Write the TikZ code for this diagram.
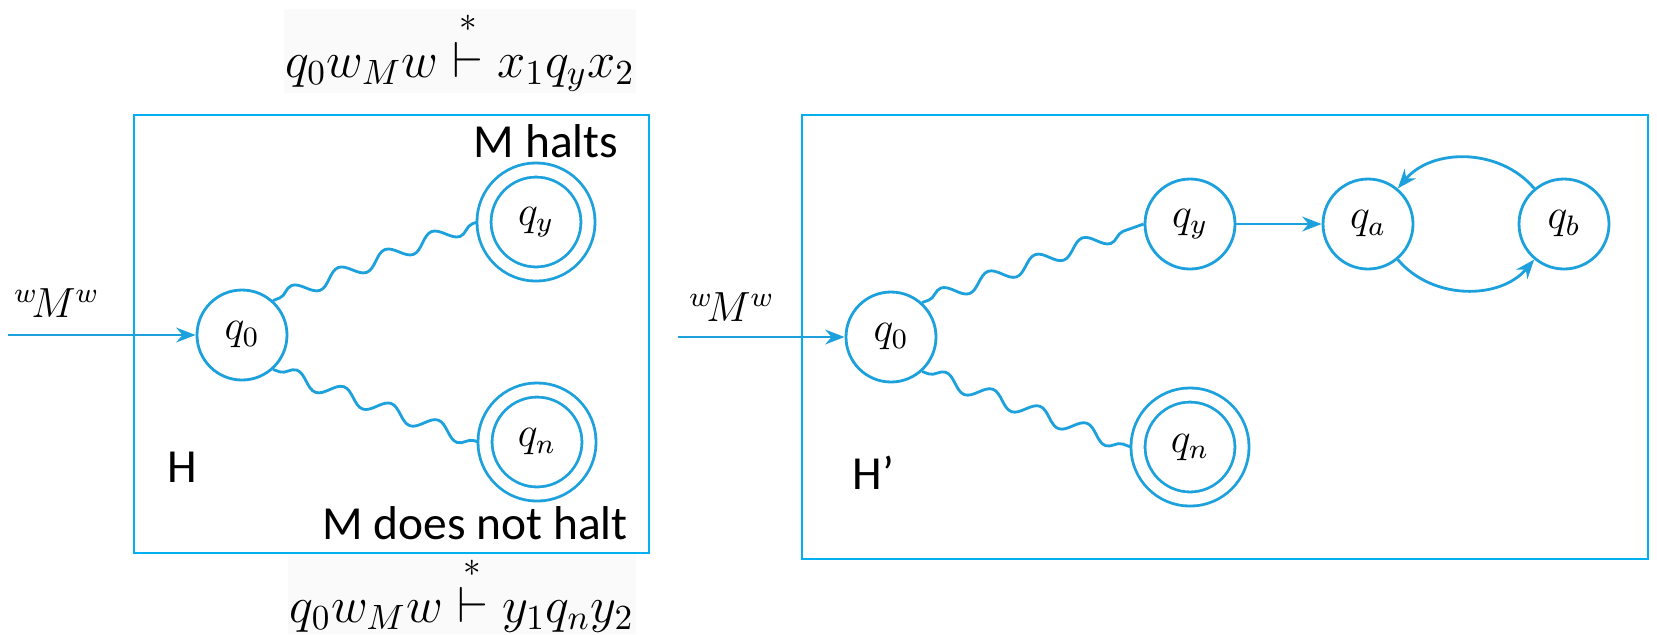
\documentclass[tikz,border=0pt]{standalone}
\usepackage{amsmath}
\usepackage{amssymb}
\usepackage{fontspec}
\usepackage{tikz}
\usepackage{xcolor}
\usetikzlibrary{arrows.meta,decorations.pathmorphing}
\newfontfamily\calib{Carlito}

\definecolor{boxblue}{HTML}{00B0F0}
\definecolor{stblue}{HTML}{1DA1DC}

\tikzset{
  qstate/.style={circle, draw=stblue, line width=0.8pt, minimum size=0.9cm, inner sep=0pt, font=\large},
  qfinal/.style={qstate, minimum size=1.04cm, double=white, double distance=3.2pt, outer sep=2pt},
  trans/.style={-{Stealth[length=5.5pt,width=4.2pt]}, draw=stblue, line width=0.8pt},
  wave/.style={draw=stblue, line width=0.8pt, decorate, decoration={snake, amplitude=2.1pt, segment length=0.5cm, pre length=2pt, post length=1pt}},
  frame/.style={draw=boxblue, line width=0.8pt},
  lbl/.style={font=\calib\fontsize{13.5}{16}\selectfont, inner sep=0pt},
  formula/.style={fill=black!2, inner sep=0.5pt, font=\Large},
  inlbl/.style={inner sep=0pt, font=\large}
}

\begin{document}
\begin{tikzpicture}
\useasboundingbox (0,0) rectangle (16.57,-6.34);

\node[formula, anchor=base] (top) at (4.60,-0.77) {$q_0 w_M w \overset{*}{\vdash} x_1 q_y x_2$};
\node[formula, anchor=base] (bot) at (4.62,-6.22) {$q_0 w_M w \overset{*}{\vdash} y_1 q_n y_2$};

% H
\draw[frame] (1.34,-1.15) rectangle (6.49,-5.53);
\node[qstate] (q0L) at (2.42,-3.35) {$q_0$};
\node[qfinal] (qyL) at (5.36,-2.22) {$q_y$};
\node[qfinal] (qnL) at (5.37,-4.42) {$q_n$};
\coordinate (inL) at (0.08,-3.35);
\node[inlbl] (wL) at (0.57,-3.03) {${}^{w}\!M^{w}$};
\draw[trans] (inL) -- (q0L);
\draw[wave] (q0L.48) -- (qyL.west);
\draw[wave] (q0L.-48) -- (qnL.west);
\node[lbl, anchor=base] (halts) at (5.46,-1.57) {M halts};
\node[lbl, anchor=base west] (nohalt) at (3.22,-5.39) {M does not halt};
\node[lbl, anchor=base west] (H) at (1.67,-4.82) {H};

% H'
\draw[frame] (8.02,-1.15) rectangle (16.48,-5.59);
\node[qstate] (q0R) at (8.91,-3.37) {$q_0$};
\node[qstate] (qyR) at (11.90,-2.24) {$q_y$};
\node[qstate] (qa) at (13.68,-2.24) {$q_a$};
\node[qstate] (qb) at (15.64,-2.24) {$q_b$};
\node[qfinal] (qnR) at (11.90,-4.47) {$q_n$};
\coordinate (inR) at (6.78,-3.37);
\node[inlbl] (wR) at (7.32,-3.07) {${}^{w}\!M^{w}$};
\draw[trans] (inR) -- (q0R);
\draw[wave] (q0R.48) -- (qyR.west);
\draw[wave] (q0R.-48) -- (qnR.west);
\draw[trans] (qyR) -- (qa);
\draw[trans] (qa) to[bend right=50] (qb);
\draw[trans] (qb) to[bend right=50] (qa);
\node[lbl, anchor=base west] (Hp) at (8.52,-4.89) {H’};
\end{tikzpicture}
\end{document}
